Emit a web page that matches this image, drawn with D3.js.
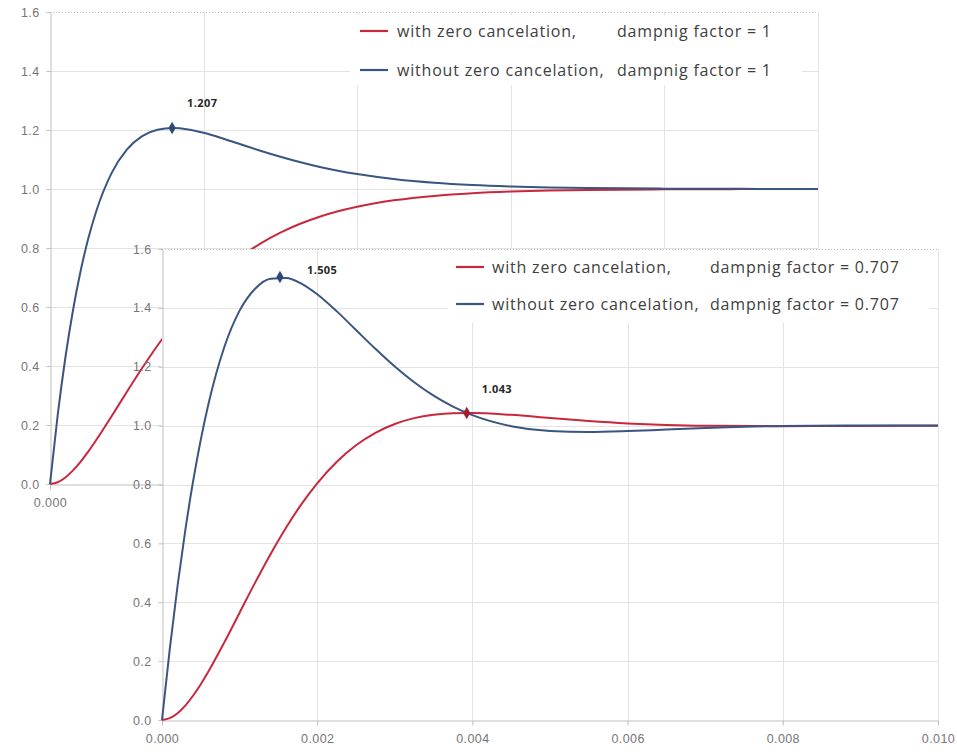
<!DOCTYPE html>
<html>
<head>
<meta charset="utf-8">
<script src="https://cdn.jsdelivr.net/npm/d3@7"></script>
<style>
  body { margin: 0; background: #fff; }
  svg { font-family: "Open Sans", Lato, sans-serif; }
  .tick text { fill: #767676; font-size: 12.5px; letter-spacing: 0.4px; }
  .legend text { fill: #404040; font-size: 16px; letter-spacing: 0.8px; }
  .dlabel { fill: #262626; font-size: 11px; font-weight: bold; letter-spacing: 0.4px; }
</style>
</head>
<body>
<svg width="957" height="754"></svg>
<script>
// time axis (s)
const timeS = [0, 0.0001, 0.0002, 0.0003, 0.0004, 0.0005, 0.0006, 0.0008, 0.0010, 0.0012,
  0.0014, 0.0016, 0.0018, 0.0020, 0.00225, 0.0025, 0.00275, 0.0030, 0.00325, 0.0035,
  0.00375, 0.0040, 0.0045, 0.0050, 0.0055, 0.0060, 0.0065, 0.0070, 0.0080, 0.0090, 0.0100];

// damping factor = 1
const red1 = [0, 0.0059, 0.0220, 0.0460, 0.0760, 0.1105, 0.1483, 0.2291, 0.3119, 0.3930,
  0.4694, 0.5398, 0.6032, 0.6598, 0.7214, 0.7734, 0.8167, 0.8520, 0.8812, 0.9053,
  0.9245, 0.9399, 0.9624, 0.9766, 0.9856, 0.9912, 0.9947, 0.9968, 0.9988, 0.9996, 0.9998];
const blue1 = [0, 0.2332, 0.4280, 0.5898, 0.7236, 0.8335, 0.9230, 1.0530, 1.1336, 1.1794,
  1.2011, 1.2067, 1.2019, 1.1906, 1.1714, 1.1500, 1.1288, 1.1092, 1.0913, 1.0754,
  1.0619, 1.0506, 1.0331, 1.0213, 1.0135, 1.0085, 1.0052, 1.0032, 1.0012, 1.0005, 1.0002];

// damping factor = 0.707
const red2 = [0, 0.0061, 0.0231, 0.0490, 0.0823, 0.1216, 0.1654, 0.2621, 0.3646, 0.4667,
  0.5641, 0.6540, 0.7342, 0.8041, 0.8766, 0.9333, 0.9756, 1.0056, 1.0254, 1.0369,
  1.0423, 1.0431, 1.0366, 1.0258, 1.0155, 1.0075, 1.0023, 0.9995, 0.9982, 0.9990, 0.9997];
const blue2 = [0, 0.2408, 0.4552, 0.6441, 0.8095, 0.9524, 1.0749, 1.2645, 1.3906, 1.4651,
  1.4990, 1.5017, 1.4819, 1.4465, 1.3890, 1.3249, 1.2608, 1.2006, 1.1473, 1.1017,
  1.0646, 1.0355, 0.9981, 0.9817, 0.9782, 0.9814, 0.9868, 0.9920, 0.9988, 1.0008, 1.0008];

// labelled points
const peaks1 = [{ t: 0.00159, v: 1.207, series: "blue" }];
const peaks2 = [{ t: 0.00152, v: 1.505, series: "blue" }, { t: 0.003927, v: 1.043, series: "red" }];

const yTicks = [0, 0.2, 0.4, 0.6, 0.8, 1.0, 1.2, 1.4, 1.6];
const xTicks = [0, 0.002, 0.004, 0.006, 0.008, 0.010];

const legend1 = [["with zero cancelation,", "dampnig factor = 1"],
                 ["without zero cancelation,", "dampnig factor = 1"]];
const legend2 = [["with zero cancelation,", "dampnig factor = 0.707"],
                 ["without zero cancelation,", "dampnig factor = 0.707"]];

const colors = { red: "#c8283c", blue: "#3a5680" };

let svg = d3.select("svg");

function drawChart(cfg) {
  let x = d3.scaleLinear().domain([0, 0.01]).range([cfg.left, cfg.right]);
  let y = d3.scaleLinear().domain([0, 1.6]).range([cfg.bottom, cfg.top]);
  let g = svg.append("g");

  // plot area (front chart hides the one behind)
  if (cfg.fill) {
    g.append("rect")
      .attr("x", cfg.left).attr("y", cfg.top)
      .attr("width", cfg.right - cfg.left).attr("height", cfg.bottom - cfg.top)
      .attr("fill", "#fff");
  }

  // gridlines
  g.selectAll(".hgrid")
    .data(yTicks.filter(d => d > 0))
    .enter().append("line")
    .attr("x1", cfg.left).attr("x2", cfg.right)
    .attr("y1", d => Math.round(y(d)) + 0.5).attr("y2", d => Math.round(y(d)) + 0.5)
    .attr("stroke", d => d === 1.6 ? "#b8b8b8" : "#e3e3e3")
    .attr("stroke-dasharray", d => d === 1.6 ? "1,2" : null);
  g.selectAll(".vgrid")
    .data(xTicks.filter(d => d > 0))
    .enter().append("line")
    .attr("x1", d => Math.round(x(d)) + 0.5).attr("x2", d => Math.round(x(d)) + 0.5)
    .attr("y1", cfg.top).attr("y2", cfg.bottom)
    .attr("stroke", "#e3e3e3");

  // legend box
  g.append("rect")
    .attr("x", cfg.legend.x).attr("y", cfg.legend.y)
    .attr("width", cfg.legend.w).attr("height", cfg.legend.h)
    .attr("fill", "#fff");

  // axes
  let yAxis = g.append("g")
    .attr("transform", `translate(${cfg.left + 0.5},0)`)
    .call(d3.axisLeft(y).tickValues(yTicks).tickFormat(d3.format(".1f"))
      .tickSize(4).tickSizeOuter(0).tickPadding(7));
  let xAxis = g.append("g")
    .attr("transform", `translate(0,${cfg.bottom + 0.5})`)
    .call(d3.axisBottom(x).tickValues(xTicks).tickFormat(d3.format(".3f"))
      .tickSize(5).tickSizeOuter(0).tickPadding(9));
  [yAxis, xAxis].forEach(a => {
    a.select(".domain").attr("stroke", "#bfbfbf");
    a.selectAll(".tick line").attr("stroke", "#bfbfbf");
    a.selectAll(".tick text").attr("font-family", null).attr("font-size", null);
  });

  // legend entries
  let leg = g.append("g").attr("class", "legend");
  let items = leg.selectAll("g")
    .data(cfg.legendText)
    .enter().append("g")
    .attr("transform", (d, i) => `translate(0,${cfg.legend.rowY[i]})`);
  items.append("line")
    .attr("x1", cfg.legend.lineX).attr("x2", cfg.legend.lineX + 28)
    .attr("stroke", (d, i) => i === 0 ? colors.red : colors.blue)
    .attr("stroke-width", 2.2);
  items.append("text")
    .attr("x", cfg.legend.textX).attr("dy", "0.35em")
    .text(d => d[0]);
  items.append("text")
    .attr("x", cfg.legend.text2X).attr("dy", "0.35em")
    .text(d => d[1]);

  // curves
  let line = d3.line()
    .x((d, i) => x(timeS[i]))
    .y(d => y(d))
    .curve(d3.curveMonotoneX);
  [[cfg.red, colors.red], [cfg.blue, colors.blue]].forEach(s => {
    g.append("path")
      .datum(s[0])
      .attr("d", line)
      .attr("fill", "none")
      .attr("stroke", s[1])
      .attr("stroke-width", 2);
  });

  // markers and value labels
  g.selectAll(".mark")
    .data(cfg.peaks)
    .enter().append("path")
    .attr("d", d3.symbol(d3.symbolDiamond).size(45))
    .attr("transform", d => `translate(${x(d.t)},${y(d.v)})`)
    .attr("fill", d => d.series === "red" ? "#a01e30" : "#2c4a75");
  g.selectAll(".dlabel")
    .data(cfg.peaks)
    .enter().append("text")
    .attr("class", "dlabel")
    .attr("x", (d, i) => x(d.t) + cfg.labelOffsets[i][0])
    .attr("y", (d, i) => y(d.v) + cfg.labelOffsets[i][1])
    .attr("dy", "0.35em")
    .text(d => d3.format(".3f")(d.v));
}

// chart behind: damping factor 1
drawChart({
  left: 50, right: 818, top: 12, bottom: 484, fill: false,
  red: red1, blue: blue1, peaks: peaks1, labelOffsets: [[15, -25]],
  legendText: legend1,
  legend: { x: 350, y: 15, w: 452, h: 70, rowY: [31, 70], lineX: 360, textX: 397, text2X: 617 }
});

// chart in front: damping factor 0.707
drawChart({
  left: 162, right: 938, top: 249, bottom: 720, fill: true,
  red: red2, blue: blue2, peaks: peaks2, labelOffsets: [[27, -7], [15, -24]],
  legendText: legend2,
  legend: { x: 448, y: 251, w: 482, h: 72, rowY: [267, 304], lineX: 456, textX: 492, text2X: 710 }
});
</script>
</body>
</html>
